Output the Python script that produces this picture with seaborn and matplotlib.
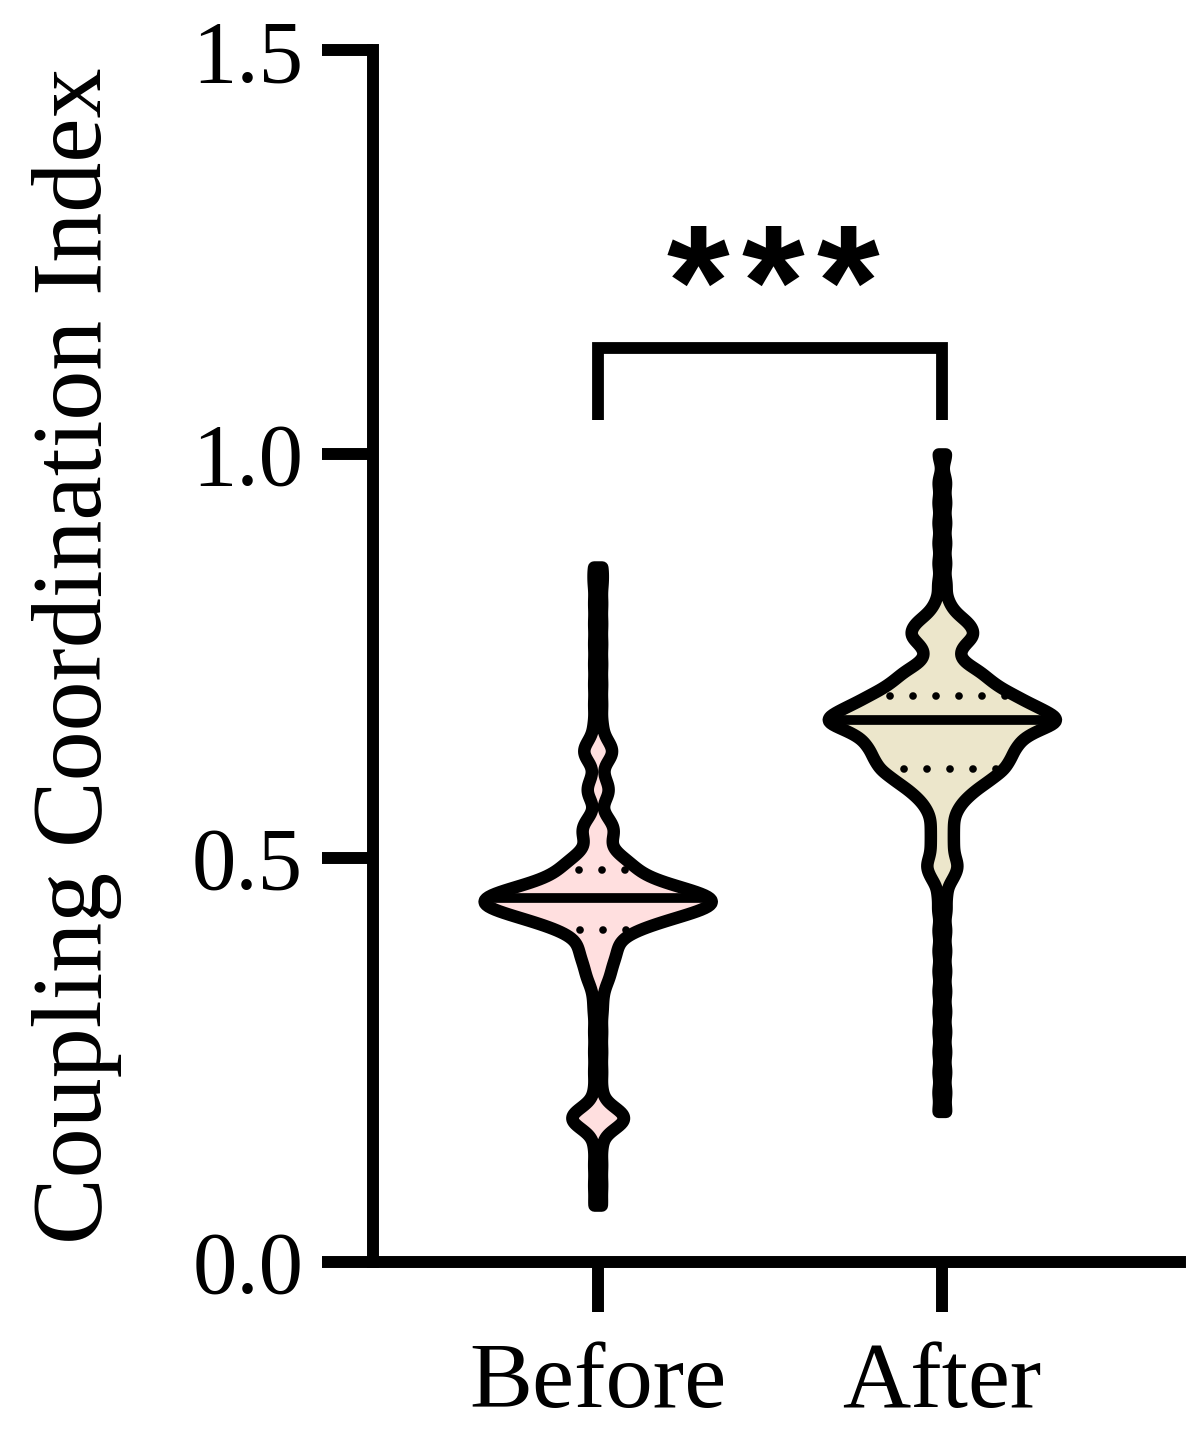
import numpy as np
import pandas as pd
import matplotlib
matplotlib.use('Agg')
import matplotlib.pyplot as plt
import seaborn as sns

groups = ['Before', 'After']
y_ticks = [0.0, 0.5, 1.0, 1.5]
y_label = 'Coupling Coordination Index'
signif = '*'

before_vals = [0.07, 0.095, 0.12, 0.145, 0.17, 0.178, 0.186, 0.21, 0.235, 0.26,
               0.285, 0.31, 0.33, 0.35, 0.365, 0.38, 0.395, 0.41, 0.42, 0.43,
               0.44, 0.45, 0.46, 0.47, 0.48, 0.49, 0.50, 0.51, 0.52, 0.53,
               0.54, 0.55, 0.575, 0.585, 0.60, 0.625, 0.635, 0.645, 0.665, 0.69,
               0.715, 0.74, 0.765, 0.79, 0.815, 0.84, 0.86]
before_counts = [1, 1, 1, 1, 3, 3, 3, 1, 1, 1,
                 1, 1, 1, 2, 2, 3, 3, 4, 6, 9,
                 13, 14, 10, 6, 4, 4, 3, 1, 1, 2,
                 2, 1, 1, 2, 1, 2, 2, 1, 1, 1,
                 1, 1, 1, 1, 1, 1, 1]

after_vals = [0.186, 0.21, 0.235, 0.26, 0.285, 0.31, 0.335, 0.36, 0.385, 0.41,
              0.435, 0.455, 0.475, 0.49, 0.505, 0.52, 0.535, 0.55, 0.565, 0.58,
              0.595, 0.61, 0.625, 0.64, 0.655, 0.67, 0.685, 0.70, 0.715, 0.73,
              0.745, 0.76, 0.775, 0.79, 0.805, 0.82, 0.84, 0.865, 0.89, 0.915,
              0.94, 0.965, 1.0]
after_counts = [1, 1, 1, 1, 1, 1, 1, 1, 1, 1,
                1, 1, 2, 3, 2, 2, 2, 2, 3, 5,
                8, 11, 12, 13, 15, 22, 17, 13, 9, 7,
                3, 3, 6, 5, 2, 1, 1, 1, 1, 1,
                1, 1, 1]

fill_colors = ['#FFDFDF', '#ECE6CB']

df = pd.DataFrame({
    'Group': ['Before'] * sum(before_counts) + ['After'] * sum(after_counts),
    'Index': np.concatenate([np.repeat(before_vals, before_counts),
                             np.repeat(after_vals, after_counts)]),
})

sns.set_theme(style='ticks')
plt.rcParams['font.family'] = ['Liberation Serif', 'DejaVu Serif']
plt.rcParams['text.color'] = 'black'
plt.rcParams['xtick.color'] = 'black'
plt.rcParams['ytick.color'] = 'black'
plt.rcParams['axes.labelcolor'] = 'black'

fig = plt.figure(figsize=(11.98, 14.32), dpi=100)
ax = fig.add_axes([0.311, 0.119, 0.674, 0.846])

sns.violinplot(data=df, x='Group', y='Index', order=groups, hue='Group',
               hue_order=groups, palette=fill_colors, saturation=1, cut=0,
               density_norm='width', width=0.66, bw_method=0.08, gridsize=400,
               inner='quart', linewidth=9, linecolor='black', legend=False,
               ax=ax)

for coll in ax.collections:
    coll.set_joinstyle('round')

# median solid, quartiles dotted
for i, line in enumerate(ax.lines):
    line.set_color('black')
    if i % 3 == 1:
        line.set_linestyle('-')
        line.set_linewidth(7)
        line.set_solid_capstyle('butt')
    else:
        line.set_linestyle((0, (0.01, 3.0)))
        line.set_linewidth(5.5)
        line.set_dash_capstyle('round')

# significance bracket
ax.plot([0, 0, 1, 1], [1.042, 1.131, 1.131, 1.042], color='black', lw=8.5,
        solid_joinstyle='miter', solid_capstyle='butt', clip_on=False)
for dx in [-0.218, 0, 0.218]:
    ax.text(0.51 + dx, 1.145, signif, ha='center', va='baseline', fontsize=116,
            fontweight='bold', color='black',
            family=['Liberation Sans', 'DejaVu Sans'])

ax.set_xlim(-0.654, 1.692)
ax.set_ylim(0, 1.5)
ax.set_yticks(y_ticks)
ax.set_yticklabels([f'{t:.1f}' for t in y_ticks])
ax.set_xlabel('')
ax.set_ylabel(y_label, fontsize=72)
ax.yaxis.set_label_coords(-0.31, 0.5)

for side in ['top', 'right']:
    ax.spines[side].set_visible(False)
for side in ['left', 'bottom']:
    ax.spines[side].set_linewidth(8.6)
    ax.spines[side].set_color('black')
    ax.spines[side].set_capstyle('projecting')

ax.tick_params(axis='y', length=37, width=8.6, color='black', pad=13,
               labelsize=64)
ax.tick_params(axis='x', length=36, width=8.6, color='black', pad=22,
               labelsize=68)

fig.savefig('out.png', dpi=100, facecolor='white')
